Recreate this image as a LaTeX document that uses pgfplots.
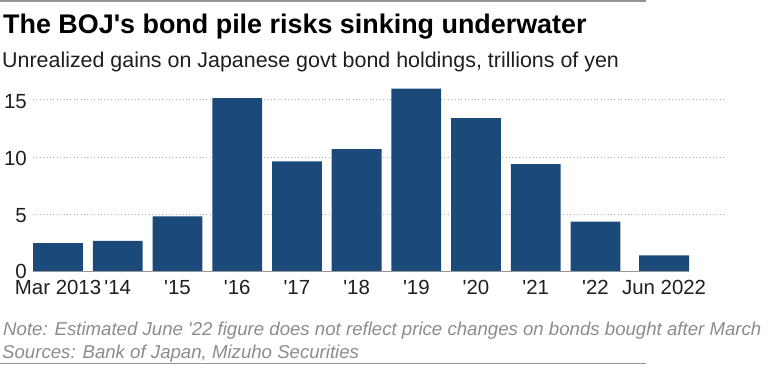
\documentclass[border=0pt]{standalone}
\usepackage{pgfplots}
\pgfplotsset{compat=1.18}
\usepackage{fontspec}
\setmainfont{Liberation Sans}
\definecolor{barblue}{RGB}{27,73,121}
\definecolor{notegray}{RGB}{140,140,140}
\definecolor{linegray}{RGB}{150,150,150}
\definecolor{gridgray}{RGB}{175,175,175}
\definecolor{ticktext}{RGB}{30,30,30}
\begin{document}
\begin{tikzpicture}
\useasboundingbox (0,0) rectangle (769bp,367bp);
\draw[linegray, line width=1.5bp] (0,366.2bp) -- (646bp,366.2bp);
\node[anchor=base west, inner sep=0pt] at (3bp,333.7bp) {\fontsize{27}{32}\selectfont\bfseries The BOJ\textquotesingle s bond pile risks sinking underwater};
\node[anchor=base west, inner sep=0pt, text=ticktext] at (2bp,299.3bp) {\fontsize{21.5}{25}\selectfont Unrealized gains on Japanese govt bond holdings, trillions of yen};
\begin{axis}[
  at={(33bp,95.3bp)}, anchor=south west,
  scale only axis, width=692bp, height=194.6bp,
  xmin=-0.42, xmax=11.17, ymin=0, ymax=17,
  axis line style={draw=none}, major tick length=0pt,
  /pgf/number format/assume math mode=true,
  xtick={0,1,2,3,4,5,6,7,8,9,10.15},
  xticklabels={Mar 2013,\textquotesingle14,\textquotesingle15,\textquotesingle16,\textquotesingle17,\textquotesingle18,\textquotesingle19,\textquotesingle20,\textquotesingle21,\textquotesingle22,Jun 2022},
  xticklabel style={anchor=base, inner sep=0pt, yshift=-23bp, text=ticktext, font=\fontsize{20.5}{24}\selectfont},
  ytick={5,10,15}, yticklabels={5,10,15},
  extra y ticks={0}, extra y tick labels={0},
  extra y tick style={grid=none, yticklabel style={yshift=1.4bp}},
  ymajorgrids,
  grid style={gridgray, line width=1bp, dash pattern=on 1bp off 2.4bp},
  yticklabel style={anchor=east, inner sep=0pt, xshift=-6bp, yshift=-1.2bp, text=ticktext, font=\fontsize{20.5}{24}\selectfont},
  clip=false,
]
\addplot[ybar, bar width=49.8bp, fill=barblue, draw=none] coordinates {
  (0,2.5) (1,2.7) (2,4.83) (3,15.17) (4,9.63) (5,10.71) (6,16.0) (7,13.42) (8,9.4) (9,4.37) (10.15,1.43)
};
\draw[linegray, line width=1.3bp] (axis cs:-0.42,0) -- (axis cs:10.57,0);
\end{axis}
\node[anchor=base west, inner sep=0pt, text=notegray] at (3bp,32bp) {\fontsize{18.7}{22}\selectfont\itshape Note: Estimated June \textquotesingle22 figure does not reflect price changes on bonds bought after March};
\node[anchor=base west, inner sep=0pt, text=notegray] at (2bp,8.7bp) {\fontsize{18.7}{22}\selectfont\itshape Sources: Bank of Japan, Mizuho Securities};
\draw[linegray, line width=1.5bp] (0,3.7bp) -- (646bp,3.7bp);
\end{tikzpicture}
\end{document}
